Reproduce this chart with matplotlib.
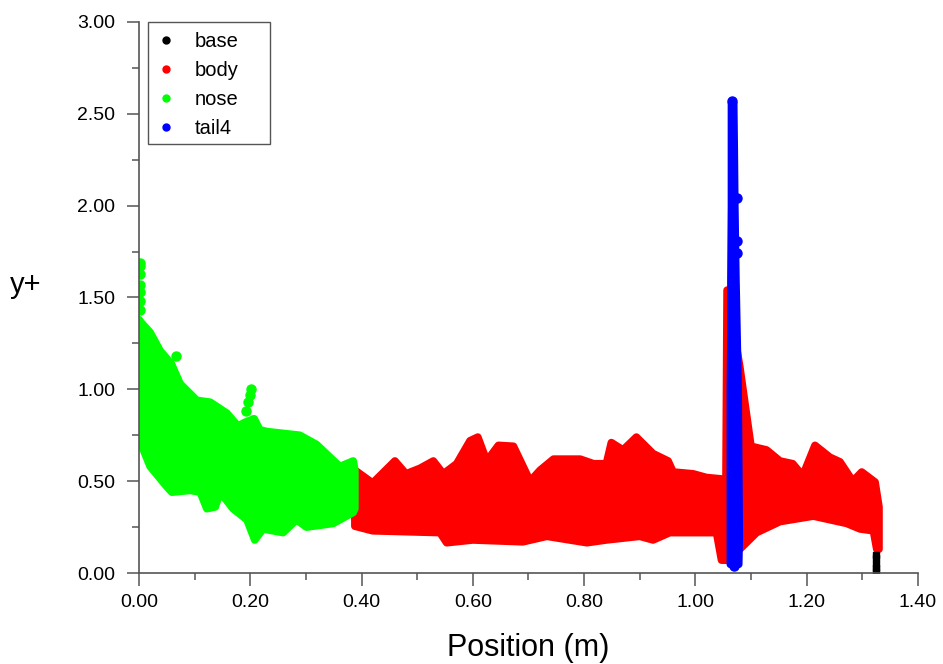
import numpy as np
import matplotlib
matplotlib.use("Agg")
import matplotlib.pyplot as plt
from matplotlib.lines import Line2D
from matplotlib.patches import Rectangle
from matplotlib.ticker import MultipleLocator, FormatStrFormatter

plt.rcParams['font.family'] = ['Liberation Sans', 'DejaVu Sans']

# nose zone envelope (upper / lower edge of the point cloud)
nose_up_x = [0.0, 0.005, 0.02, 0.038, 0.058, 0.074, 0.104, 0.128, 0.158, 0.178,
             0.19, 0.207, 0.217, 0.23, 0.289, 0.319, 0.361, 0.385, 0.388]
nose_up_y = [1.38, 1.36, 1.31, 1.21, 1.14, 1.03, 0.94, 0.93, 0.87, 0.80,
             0.82, 0.84, 0.78, 0.77, 0.75, 0.70, 0.58, 0.61, 0.56]
nose_lo_x = [0.0, 0.02, 0.05, 0.059, 0.092, 0.11, 0.122, 0.137, 0.146, 0.169,
             0.194, 0.208, 0.223, 0.259, 0.283, 0.301, 0.349, 0.385, 0.388]
nose_lo_y = [0.73, 0.58, 0.47, 0.44, 0.45, 0.44, 0.35, 0.36, 0.44, 0.35,
             0.29, 0.18, 0.24, 0.22, 0.29, 0.25, 0.27, 0.33, 0.35]
# isolated nose points
nose_pts_x = [0.002, 0.002, 0.002, 0.002, 0.002, 0.002, 0.002, 0.066, 0.192, 0.196, 0.199, 0.201]
nose_pts_y = [1.43, 1.48, 1.53, 1.57, 1.63, 1.67, 1.69, 1.18, 0.88, 0.93, 0.97, 1.00]

# body zone envelope
body_up_x = [0.388, 0.42, 0.45, 0.46, 0.48, 0.505, 0.529, 0.547, 0.571, 0.595,
             0.609, 0.625, 0.646, 0.673, 0.703, 0.721, 0.745, 0.793, 0.817, 0.84,
             0.849, 0.87, 0.894, 0.924, 0.951, 0.96, 0.996, 1.02, 1.055, 1.057,
             1.08, 1.10, 1.128, 1.152, 1.175, 1.193, 1.215, 1.242, 1.26, 1.283,
             1.299, 1.323, 1.330]
body_up_y = [0.56, 0.49, 0.58, 0.61, 0.54, 0.57, 0.61, 0.54, 0.595, 0.72,
             0.74, 0.61, 0.695, 0.69, 0.50, 0.56, 0.62, 0.62, 0.595, 0.595,
             0.71, 0.67, 0.74, 0.65, 0.61, 0.55, 0.54, 0.52, 0.51, 1.54,
             1.12, 0.69, 0.67, 0.61, 0.595, 0.53, 0.695, 0.63, 0.605, 0.50,
             0.55, 0.495, 0.36]
body_lo_x = [0.388, 0.42, 0.541, 0.553, 0.60, 0.69, 0.733, 0.805, 0.84, 0.90,
             0.924, 0.954, 1.038, 1.047, 1.056, 1.08, 1.11, 1.152, 1.212, 1.272,
             1.296, 1.32, 1.326, 1.330]
body_lo_y = [0.255, 0.23, 0.22, 0.165, 0.18, 0.17, 0.20, 0.165, 0.18, 0.20,
             0.18, 0.22, 0.22, 0.07, 0.07, 0.13, 0.22, 0.28, 0.31, 0.27,
             0.24, 0.23, 0.13, 0.13]

# tail4 zone (narrow vertical band)
tail_y = [0.05, 0.2, 0.6, 1.0, 1.3, 1.6, 2.0, 2.3, 2.56]
tail_xl = [1.062, 1.062, 1.062, 1.062, 1.063, 1.063, 1.064, 1.064, 1.064]
tail_xr = [1.077, 1.078, 1.077, 1.076, 1.074, 1.072, 1.070, 1.069, 1.068]
tail_pts_x = [1.075, 1.074, 1.074, 1.066, 1.070]
tail_pts_y = [2.04, 1.81, 1.74, 2.57, 0.04]

# base zone
base_x = [1.325, 1.325, 1.325, 1.325, 1.325]
base_y = [0.01, 0.03, 0.05, 0.08, 0.10]

zones = ['base', 'body', 'nose', 'tail4']

RED = '#ff0000'
GREEN = '#00ff00'
BLUE = '#0000ff'
MS = 6.5
EDGE = 5.5

fig = plt.figure(figsize=(9.43, 6.64), dpi=100)
ax = fig.add_axes([0.1474, 0.137, 0.826, 0.830])


def draw_zone(ux, uy, lx, ly, color):
    px = np.r_[ux, lx[::-1]]
    py = np.r_[uy, ly[::-1]]
    ax.fill(px, py, color=color, lw=EDGE, joinstyle='round')


draw_zone(body_up_x, body_up_y, body_lo_x, body_lo_y, RED)
draw_zone(nose_up_x, nose_up_y, nose_lo_x, nose_lo_y, GREEN)
ax.plot(nose_pts_x, nose_pts_y, 'o', ms=MS, color=GREEN)

ax.fill_betweenx(tail_y, tail_xl, tail_xr, color=BLUE, lw=EDGE, joinstyle='round')
ax.plot(tail_pts_x, tail_pts_y, 'o', ms=MS, color=BLUE)

ax.plot(base_x, base_y, 's', ms=5, color='black')

ax.set_xlim(0, 1.40)
ax.set_ylim(0, 3.00)
ax.xaxis.set_major_locator(MultipleLocator(0.2))
ax.xaxis.set_minor_locator(MultipleLocator(0.1))
ax.yaxis.set_major_locator(MultipleLocator(0.5))
ax.yaxis.set_minor_locator(MultipleLocator(0.25))
ax.xaxis.set_major_formatter(FormatStrFormatter('%.2f'))
ax.yaxis.set_major_formatter(FormatStrFormatter('%.2f'))

for s in ['top', 'right']:
    ax.spines[s].set_visible(False)
for s in ['left', 'bottom']:
    ax.spines[s].set_color('#555555')
    ax.spines[s].set_linewidth(1.2)
ax.tick_params(which='major', direction='out', length=9, width=1.1,
               color='#555555', labelsize=14, pad=6)
ax.tick_params(which='minor', direction='out', length=5, width=1.1, color='#555555')
ax.tick_params(axis='y', which='major', pad=8)

ax.set_xlabel('Position (m)', fontsize=22, labelpad=16)
ax.set_ylabel('y+', fontsize=21, rotation=0, va='center', ha='center')
ax.yaxis.set_label_coords(-0.145, 0.523)

# legend: entries without frame, box drawn separately (wider right margin)
handles = [Line2D([], [], ls='', marker='o', ms=5, color=c)
           for c in ['black', RED, GREEN, BLUE]]
leg = ax.legend(handles, zones, loc='upper left', frameon=False,
                bbox_to_anchor=(0.012, 1.0), borderaxespad=0, fontsize=14.5,
                handlelength=0.8, handletextpad=1.0, borderpad=0.5, labelspacing=0.5)
ax.add_patch(Rectangle((0.0116, 0.7786), 0.1566, 0.2214, transform=ax.transAxes,
                       facecolor='white', edgecolor='#555555', lw=1.0,
                       clip_on=False, zorder=4))
leg.set_zorder(5)

fig.savefig('out.png', dpi=100)
